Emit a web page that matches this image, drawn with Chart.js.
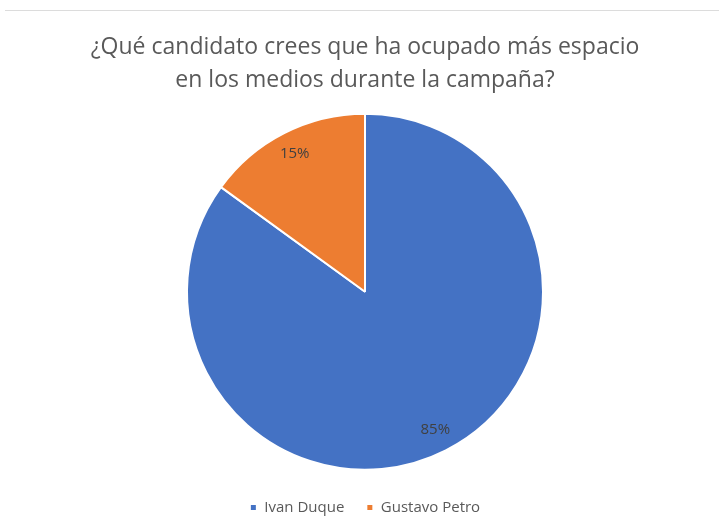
<!DOCTYPE html>
<html>
<head>
<meta charset="utf-8">
<script src="https://cdn.jsdelivr.net/npm/chart.js@4"></script>
<style>
  html, body { margin: 0; padding: 0; background: #fff; }
  .wrap { position: relative; width: 719px; height: 521px; overflow: hidden; }
  .rule { position: absolute; left: 5px; right: 0; top: 10px; border-top: 1px solid #dcdcdc; }
  canvas { position: absolute; left: 0; top: 0; }
</style>
</head>
<body>
<div class="wrap">
  <div class="rule"></div>
  <canvas id="pieChart" width="719" height="521"></canvas>
</div>
<script>
const tituloLineas = ['¿Qué candidato crees que ha ocupado más espacio', 'en los medios durante la campaña?'];
const candidatos = ['Ivan Duque', 'Gustavo Petro'];
const porcentajes = [85, 15];
const colores = ['#4472C4', '#ED7D31'];

// etiquetas de porcentaje dentro de cada sector
const etiquetasPie = {
  id: 'etiquetasPie',
  afterDatasetsDraw(chart) {
    const c = chart.ctx;
    const meta = chart.getDatasetMeta(0);
    c.save();
    c.font = '15px "Open Sans"';
    c.fillStyle = '#404040';
    c.textAlign = 'center';
    c.textBaseline = 'middle';
    meta.data.forEach((arc, i) => {
      const mid = (arc.startAngle + arc.endAngle) / 2;
      const r = arc.outerRadius * 0.87;
      c.fillText(porcentajes[i] + '%', arc.x + Math.cos(mid) * r, arc.y + Math.sin(mid) * r);
    });
    c.restore();
  }
};

const ctx = document.getElementById('pieChart').getContext('2d');

new Chart(ctx, {
  type: 'pie',
  data: {
    labels: candidatos,
    datasets: [{
      data: porcentajes,
      backgroundColor: colores,
      borderColor: '#ffffff',
      borderWidth: 2
    }]
  },
  options: {
    responsive: false,
    animation: false,
    radius: 178,
    layout: { padding: { left: 11, top: 0, bottom: -4 } },
    plugins: {
      title: {
        display: true,
        text: tituloLineas,
        color: '#595959',
        font: { family: 'Open Sans', size: 23, weight: 'normal', lineHeight: 1.435 },
        padding: { top: 30.5, bottom: 9 }
      },
      legend: {
        display: true,
        position: 'bottom',
        labels: {
          color: '#595959',
          boxWidth: 7,
          boxHeight: 7,
          padding: 22,
          font: { family: 'Open Sans', size: 15 }
        }
      },
      tooltip: { enabled: false }
    }
  },
  plugins: [etiquetasPie]
});
</script>
</body>
</html>
